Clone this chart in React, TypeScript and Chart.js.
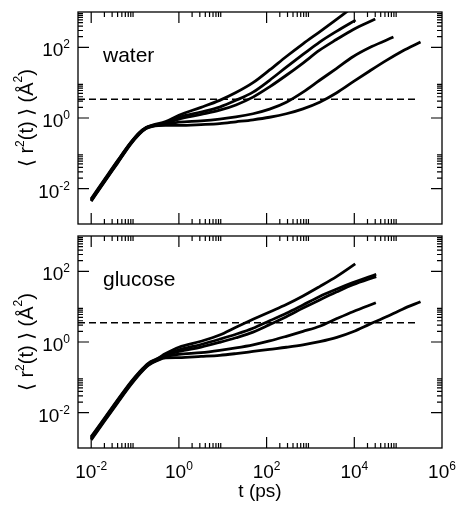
import { useEffect, useRef } from "react";
import { Chart, registerables } from "chart.js";

Chart.register(...registerables);

type Pt = [number, number];

// ---- data: time t (ps) vs <r^2(t)> (Å^2) ----
const waterA: Pt[] = [[0.01, 0.0052], [0.02, 0.018], [0.04, 0.062], [0.079, 0.2], [0.126, 0.39], [0.178, 0.54], [0.25, 0.63], [0.5, 0.79], [1, 1.2], [3.2, 2.0], [8.5, 3.16], [20, 5.25], [49, 10], [117, 22.9], [282, 55], [676, 126], [1620, 275], [3300, 525], [7100, 1070]];
const waterB: Pt[] = [[0.01, 0.005], [0.02, 0.0172], [0.04, 0.06], [0.079, 0.195], [0.126, 0.38], [0.178, 0.53], [0.25, 0.61], [0.5, 0.74], [1, 1.05], [3.2, 1.48], [8.5, 2.04], [20, 3.16], [49, 5.4], [117, 11.7], [282, 27.5], [676, 63], [1620, 141], [4000, 288], [10700, 589]];
const waterC: Pt[] = [[0.01, 0.0048], [0.02, 0.0166], [0.04, 0.0575], [0.079, 0.19], [0.126, 0.37], [0.178, 0.52], [0.25, 0.6], [0.5, 0.71], [1, 0.93], [3.2, 1.26], [8.5, 1.66], [20, 2.34], [49, 3.9], [117, 7.6], [282, 16.2], [676, 36], [1620, 83], [3900, 166], [9300, 316], [30000, 630]];
const waterD: Pt[] = [[0.01, 0.0046], [0.02, 0.016], [0.04, 0.055], [0.079, 0.185], [0.126, 0.36], [0.178, 0.51], [0.25, 0.59], [0.5, 0.66], [1, 0.76], [3.2, 0.83], [8.5, 0.93], [20, 1.07], [49, 1.32], [117, 1.78], [282, 2.8], [676, 5.4], [1620, 11.7], [3900, 25], [9300, 54], [25000, 105], [78000, 195]];
const waterE: Pt[] = [[0.01, 0.0044], [0.02, 0.0155], [0.04, 0.053], [0.079, 0.18], [0.126, 0.35], [0.178, 0.5], [0.25, 0.58], [0.5, 0.62], [1, 0.62], [3.2, 0.65], [8.5, 0.69], [20, 0.78], [49, 0.89], [117, 1.05], [282, 1.32], [676, 1.82], [1620, 2.8], [3900, 5.1], [9300, 10.5], [22400, 21.4], [54000, 42.7], [126000, 79], [324000, 141]];

const glucoseA: Pt[] = [[0.01, 0.0021], [0.02, 0.0069], [0.04, 0.023], [0.079, 0.072], [0.126, 0.143], [0.2, 0.25], [0.316, 0.335], [0.5, 0.47], [1, 0.71], [3.2, 1.05], [8.5, 1.58], [20, 2.63], [49, 4.4], [117, 7.1], [282, 11.5], [676, 20], [1620, 37], [4000, 72], [10500, 162]];
const glucoseB: Pt[] = [[0.01, 0.002], [0.02, 0.0066], [0.04, 0.022], [0.079, 0.069], [0.126, 0.138], [0.2, 0.242], [0.316, 0.325], [0.5, 0.44], [1, 0.6], [3.2, 0.85], [8.5, 1.2], [20, 1.66], [49, 2.45], [117, 4.0], [282, 6.5], [676, 11.2], [1620, 19.5], [4000, 31.6], [9300, 47.9], [31600, 83]];
const glucoseC: Pt[] = [[0.01, 0.0019], [0.02, 0.0063], [0.04, 0.021], [0.079, 0.066], [0.126, 0.132], [0.2, 0.234], [0.316, 0.316], [0.5, 0.42], [1, 0.54], [3.2, 0.72], [8.5, 0.98], [20, 1.32], [49, 1.9], [117, 3.1], [282, 5.2], [676, 9.1], [1620, 15.5], [4000, 26.3], [9300, 41.7], [31600, 71]];
const glucoseD: Pt[] = [[0.01, 0.0018], [0.02, 0.006], [0.04, 0.02], [0.079, 0.063], [0.126, 0.127], [0.2, 0.226], [0.316, 0.305], [0.5, 0.39], [1, 0.45], [3.2, 0.5], [8.5, 0.58], [20, 0.68], [49, 0.83], [117, 1.07], [282, 1.45], [676, 2.0], [1620, 2.8], [4000, 4.6], [9300, 7.2], [31000, 12.9]];
const glucoseE: Pt[] = [[0.01, 0.0017], [0.02, 0.0057], [0.04, 0.019], [0.079, 0.06], [0.126, 0.122], [0.2, 0.218], [0.316, 0.295], [0.5, 0.355], [1, 0.36], [3.2, 0.39], [8.5, 0.42], [20, 0.47], [49, 0.54], [117, 0.62], [282, 0.71], [676, 0.83], [1620, 1.02], [4000, 1.35], [9300, 1.95], [22400, 3.2], [54000, 5.2], [126000, 8.5], [324000, 13.8]];

// dashed reference level and its extent
const dashWater: Pt[] = [[0.005, 3.4], [260000, 3.4]];
const dashGlucose: Pt[] = [[0.005, 3.5], [260000, 3.5]];

// axes
const X_MIN = 0.005;
const X_MAX = 1e6;
const Y_MIN = 1e-3;
const Y_MAX = 1e3;
const xMajorTicks = [1e-2, 1, 1e2, 1e4, 1e6];
const xMajorExp = ["-2", "0", "2", "4", "6"];
const xMinorDecades = [1e-2, 1, 1e2, 1e4];
const yMajorTicks = [1e-2, 1, 1e2];
const yMajorExp = ["-2", "0", "2"];
const yMinorDecades = [1e-2, 1, 1e2];
const minorMultipliers = [2, 3, 4, 5, 6, 7, 8, 9];

const FONT = "'Liberation Sans', Arial, Helvetica, 'DejaVu Sans', sans-serif";

type Seg = { t: string; size: number; dy?: number };

function drawRich(ctx: CanvasRenderingContext2D, segs: Seg[], x: number, y: number, align: "left" | "center" | "right") {
  const widths = segs.map((s) => {
    ctx.font = `${s.size}px ${FONT}`;
    return ctx.measureText(s.t).width;
  });
  const total = widths.reduce((a, b) => a + b, 0);
  let cx = align === "center" ? x - total / 2 : align === "right" ? x - total : x;
  ctx.textAlign = "left";
  ctx.textBaseline = "alphabetic";
  segs.forEach((s, i) => {
    ctx.font = `${s.size}px ${FONT}`;
    ctx.fillText(s.t, cx, y + (s.dy || 0));
    cx += widths[i];
  });
}

const powSegs = (e: string): Seg[] => [
  { t: "10", size: 19 },
  { t: e, size: 12, dy: -8 },
];

const yTitleSegs: Seg[] = [
  { t: "\u27E8 ", size: 20 },
  { t: "r", size: 20 },
  { t: "2", size: 12, dy: -9 },
  { t: "(t) ", size: 20 },
  { t: "\u27E9", size: 20 },
  { t: " (\u00C5", size: 20 },
  { t: "2", size: 12, dy: -11 },
  { t: ")", size: 20 },
];

function decorPlugin(label: string, showX: boolean) {
  return {
    id: "decor",
    afterDraw(chart: any) {
      const { ctx, chartArea: a, scales } = chart;
      const xs = scales.x;
      const ys = scales.y;
      ctx.save();
      ctx.strokeStyle = "#000";
      ctx.fillStyle = "#000";
      // frame
      ctx.lineWidth = 1.3;
      ctx.strokeRect(a.left, a.top, a.right - a.left, a.bottom - a.top);
      ctx.lineWidth = 1.2;
      const MAJ = 11;
      const MIN = 5;
      const xTick = (v: number, len: number) => {
        const px = xs.getPixelForValue(v);
        if (px < a.left + 0.5 || px > a.right - 0.5) return;
        ctx.beginPath();
        ctx.moveTo(px, a.bottom);
        ctx.lineTo(px, a.bottom - len);
        ctx.moveTo(px, a.top);
        ctx.lineTo(px, a.top + len);
        ctx.stroke();
      };
      const yTick = (v: number, len: number) => {
        const py = ys.getPixelForValue(v);
        if (py < a.top + 0.5 || py > a.bottom - 0.5) return;
        ctx.beginPath();
        ctx.moveTo(a.left, py);
        ctx.lineTo(a.left + len, py);
        ctx.moveTo(a.right, py);
        ctx.lineTo(a.right - len, py);
        ctx.stroke();
      };
      xMajorTicks.forEach((v) => xTick(v, MAJ));
      xMinorDecades.forEach((d) => minorMultipliers.forEach((m) => xTick(d * m, MIN)));
      yMajorTicks.forEach((v) => yTick(v, MAJ));
      yMinorDecades.forEach((d) => minorMultipliers.forEach((m) => yTick(d * m, MIN)));

      // y tick labels
      yMajorTicks.forEach((v, i) => {
        const py = ys.getPixelForValue(v);
        drawRich(ctx, powSegs(yMajorExp[i]), a.left - 8, py + 9, "right");
      });
      // x tick labels
      if (showX) {
        xMajorTicks.forEach((v, i) => {
          const px = xs.getPixelForValue(v);
          drawRich(ctx, powSegs(xMajorExp[i]), px, a.bottom + 30, "center");
        });
        drawRich(ctx, [{ t: "t (ps)", size: 19 }], (a.left + a.right) / 2, a.bottom + 49, "center");
      }
      // y title
      ctx.save();
      ctx.translate(33, (a.top + a.bottom) / 2);
      ctx.rotate(-Math.PI / 2);
      drawRich(ctx, yTitleSegs, 0, 0, "center");
      ctx.restore();
      // panel label
      drawRich(ctx, [{ t: label, size: 21 }], a.left + 25, a.top + 50, "left");
      ctx.restore();
    },
  };
}

type PanelProps = {
  curves: Pt[][];
  dash: Pt[];
  label: string;
  showX: boolean;
  height: number;
  pad: { left: number; right: number; top: number; bottom: number };
};

function Panel({ curves, dash, label, showX, height, pad }: PanelProps) {
  const ref = useRef<HTMLCanvasElement>(null);
  useEffect(() => {
    const datasets: any[] = curves.map((c) => ({
      data: c.map(([x, y]) => ({ x, y })),
      borderColor: "#000",
      borderWidth: 2.8,
      pointRadius: 0,
      fill: false,
      cubicInterpolationMode: "monotone",
    }));
    datasets.push({
      data: dash.map(([x, y]) => ({ x, y })),
      borderColor: "#000",
      borderWidth: 1.6,
      borderDash: [7, 4],
      pointRadius: 0,
      fill: false,
    });
    const chart = new Chart(ref.current!, {
      type: "line",
      data: { datasets },
      options: {
        animation: false,
        responsive: false,
        maintainAspectRatio: false,
        events: [],
        layout: { padding: pad },
        plugins: { legend: { display: false }, tooltip: { enabled: false } },
        scales: {
          x: { type: "logarithmic", min: X_MIN, max: X_MAX, display: false },
          y: { type: "logarithmic", min: Y_MIN, max: Y_MAX, display: false },
        },
      },
      plugins: [decorPlugin(label, showX)],
    } as any);
    return () => chart.destroy();
  }, []);
  return <canvas ref={ref} width={458} height={height} style={{ display: "block", width: 458, height }} />;
}

export default function App() {
  return (
    <div style={{ position: "absolute", left: 0, top: 0, width: 458, height: 506, background: "#fff" }}>
      <Panel
        curves={[waterA, waterB, waterC, waterD, waterE]}
        dash={dashWater}
        label="water"
        showX={false}
        height={230}
        pad={{ left: 78, right: 16, top: 12, bottom: 6 }}
      />
      <Panel
        curves={[glucoseA, glucoseB, glucoseC, glucoseD, glucoseE]}
        dash={dashGlucose}
        label="glucose"
        showX={true}
        height={276}
        pad={{ left: 78, right: 16, top: 6, bottom: 58 }}
      />
    </div>
  );
}
